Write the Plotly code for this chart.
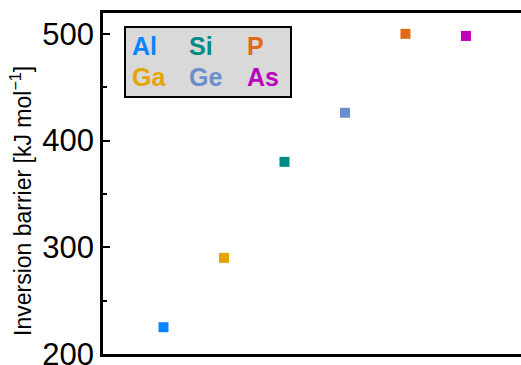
import plotly.graph_objects as go

# Inversion barriers by central element
elements = ["Al", "Ga", "Si", "Ge", "P", "As"]
positions = [1, 2, 3, 4, 5, 6]
barriers = [225, 290, 380, 426, 500, 498]
colors = ["#0a84ff", "#e3a600", "#008b84", "#6a8fcc", "#e06a1a", "#bb00bb"]

# Key layout (3 columns x 2 rows)
key_rows = [["Al", "Si", "P"], ["Ga", "Ge", "As"]]
color_of = dict(zip(elements, colors))

W, H = 521, 365
L, R, T, B = 103, 0, 13, 11
pw, ph = W - L - R, H - T - B


def px_x(x):
    return (x - L) / pw


def px_y(y):
    return (H - B - y) / ph


fig = go.Figure()
for el, xp, val, col in zip(elements, positions, barriers, colors):
    fig.add_trace(go.Scatter(
        x=[xp], y=[val], mode="markers", name=el,
        marker=dict(symbol="square", size=10, color=col, line=dict(width=0)),
        showlegend=False,
    ))

# Key box
fig.add_shape(type="rect", xref="paper", yref="paper",
              x0=px_x(125), x1=px_x(291), y0=px_y(97), y1=px_y(27),
              fillcolor="#d9d9d9", line=dict(color="black", width=2), layer="above")

col_x = [130, 187, 245]
row_y = [46, 77]
for r, row in enumerate(key_rows):
    for c, el in enumerate(row):
        fig.add_annotation(
            xref="paper", yref="paper", x=px_x(col_x[c]), y=px_y(row_y[r]),
            text=f"<b>{el}</b>", showarrow=False, xanchor="left", yanchor="middle",
            font=dict(family="Liberation Sans, Arial", size=25, color=color_of[el]),
        )

# Y-axis title
fig.add_annotation(
    xref="paper", yref="paper", x=px_x(21), y=px_y(201),
    text="Inversion barrier [kJ mol<sup>−1</sup>]", textangle=-90, showarrow=False,
    xanchor="center", yanchor="middle",
    font=dict(family="Liberation Sans, Arial", size=23, color="black"),
)

fig.update_layout(
    width=W, height=H,
    margin=dict(l=L, r=R, t=T, b=B, autoexpand=False),
    paper_bgcolor="white", plot_bgcolor="white",
    font=dict(family="Liberation Sans, Arial", color="black"),
)
fig.update_xaxes(
    range=[0, 6.91], showgrid=False, zeroline=False, showticklabels=False,
    ticks="", showline=True, linecolor="black", linewidth=2.5, mirror=True,
    automargin=False,
)
fig.update_yaxes(
    range=[199.9, 519.5], showgrid=False, zeroline=False,
    tickmode="linear", tick0=200, dtick=100, ticks="inside", ticklen=7,
    tickwidth=1.5, tickcolor="black", ticklabeloverflow="allow",
    minor=dict(ticks="inside", ticklen=4, dtick=50, tick0=200, tickwidth=1.5, tickcolor="black"),
    tickfont=dict(family="Liberation Sans, Arial", size=31, color="black"),
    showline=True, linecolor="black", linewidth=2.5, mirror=False,
    automargin=False,
)

fig.write_html("out.html")
